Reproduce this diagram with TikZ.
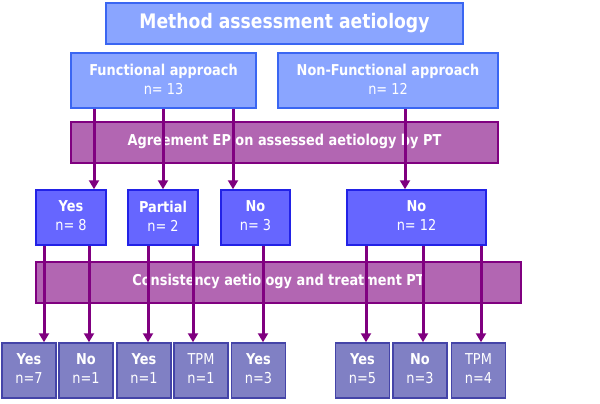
\documentclass[tikz,border=0pt]{standalone}
\usepackage{fontspec}
\setmainfont{DejaVu Sans}[FakeStretch=0.86]
\usetikzlibrary{arrows.meta}
\definecolor{topF}{HTML}{8AA5FF}
\definecolor{topB}{HTML}{3A66F2}
\definecolor{midF}{HTML}{6666FF}
\definecolor{midB}{HTML}{2222E6}
\definecolor{botF}{HTML}{8080C4}
\definecolor{botB}{HTML}{4444A8}
\definecolor{barF}{HTML}{B266B2}
\definecolor{barB}{HTML}{800080}
\definecolor{arrC}{HTML}{800080}
\tikzset{
  anybox/.style={rectangle, line width=1.5pt, inner sep=0pt, align=center, text=white,
     font=\fontsize{15}{19}\selectfont},
  topbox/.style={anybox, draw=topB, fill=topF},
  midbox/.style={anybox, draw=midB, fill=midF, minimum height=55pt},
  botbox/.style={anybox, draw=botB, fill=botF, minimum width=54pt, minimum height=55pt},
  barbox/.style={anybox, draw=barB, fill=barF, minimum height=41pt},
  arr/.style={draw=arrC, line width=3pt, -{Triangle[width=10pt,length=9pt]}}
}
\begin{document}
\begin{tikzpicture}[x=1pt,y=-1pt]
\useasboundingbox (0,0) rectangle (600,404);
\fill[white] (0,0) rectangle (600,404);
% top
\node[topbox, minimum width=357pt, minimum height=41pt, font=\fontsize{20}{22}\selectfont\bfseries] (title) at (284.5,23.5) {Method assessment aetiology};
\node[topbox, minimum width=185pt, minimum height=55pt] (func) at (163.5,80.5) {\textbf{Functional approach}\\n= 13\vphantom{p}};
\node[topbox, minimum width=220pt, minimum height=55pt] (nonf) at (388,80.5) {\textbf{Non-Functional approach}\\n= 12\vphantom{p}};
% bar 1
\node[barbox, minimum width=427pt] (agree) at (284.5,142.5) {\raisebox{5pt}{\textbf{Agreement EP on assessed aetiology by PT}}};
% second level
\node[midbox, minimum width=70pt] (yes8) at (71,217.5) {\textbf{Yes}\\n= 8\vphantom{p}};
\node[midbox, minimum width=70pt] (part) at (163,217.5) {\textbf{Partial}\\n= 2\vphantom{p}};
\node[midbox, minimum width=69pt] (no3) at (255.5,217.5) {\textbf{No}\\n= 3\vphantom{p}};
\node[midbox, minimum width=139pt] (no12) at (416.5,217.5) {\textbf{No}\\n= 12\vphantom{p}};
% bar 2
\node[barbox, minimum width=485pt] (cons) at (278.5,282.5) {\raisebox{5pt}{\textbf{Consistency aetiology and treatment PT}}};
% bottom
\node[botbox] (b1) at (29,370.5) {\textbf{Yes}\\n=7\vphantom{p}};
\node[botbox] (b2) at (86,370.5) {\textbf{No}\\n=1\vphantom{p}};
\node[botbox] (b3) at (144,370.5) {\textbf{Yes}\\n=1\vphantom{p}};
\node[botbox] (b4) at (201,370.5) {TPM\\n=1\vphantom{p}};
\node[botbox] (b5) at (258.5,370.5) {\textbf{Yes}\\n=3\vphantom{p}};
\node[botbox] (b6) at (362.5,370.5) {\textbf{Yes}\\n=5\vphantom{p}};
\node[botbox] (b7) at (420,370.5) {\textbf{No}\\n=3\vphantom{p}};
\node[botbox] (b8) at (478.5,370.5) {TPM\\n=4\vphantom{p}};
% arrow columns
\coordinate (c1) at (94,0);
\coordinate (c2) at (163,0);
\coordinate (c3) at (233,0);
\coordinate (c4) at (405,0);
\coordinate (d1) at (44,0);
\coordinate (d2) at (89,0);
\coordinate (d3) at (148,0);
\coordinate (d4) at (193,0);
\coordinate (d5) at (263,0);
\coordinate (d6) at (366,0);
\coordinate (d7) at (423,0);
\coordinate (d8) at (481,0);
% arrows
\draw[arr] (func.south -| c1) -- (yes8.north -| c1);
\draw[arr] (func.south -| c2) -- (part.north -| c2);
\draw[arr] (func.south -| c3) -- (no3.north -| c3);
\draw[arr] (nonf.south -| c4) -- (no12.north -| c4);
\draw[arr] (yes8.south -| d1) -- (b1.north -| d1);
\draw[arr] (yes8.south -| d2) -- (b2.north -| d2);
\draw[arr] (part.south -| d3) -- (b3.north -| d3);
\draw[arr] (part.south -| d4) -- (b4.north -| d4);
\draw[arr] (no3.south -| d5) -- (b5.north -| d5);
\draw[arr] (no12.south -| d6) -- (b6.north -| d6);
\draw[arr] (no12.south -| d7) -- (b7.north -| d7);
\draw[arr] (no12.south -| d8) -- (b8.north -| d8);
\end{tikzpicture}
\end{document}
